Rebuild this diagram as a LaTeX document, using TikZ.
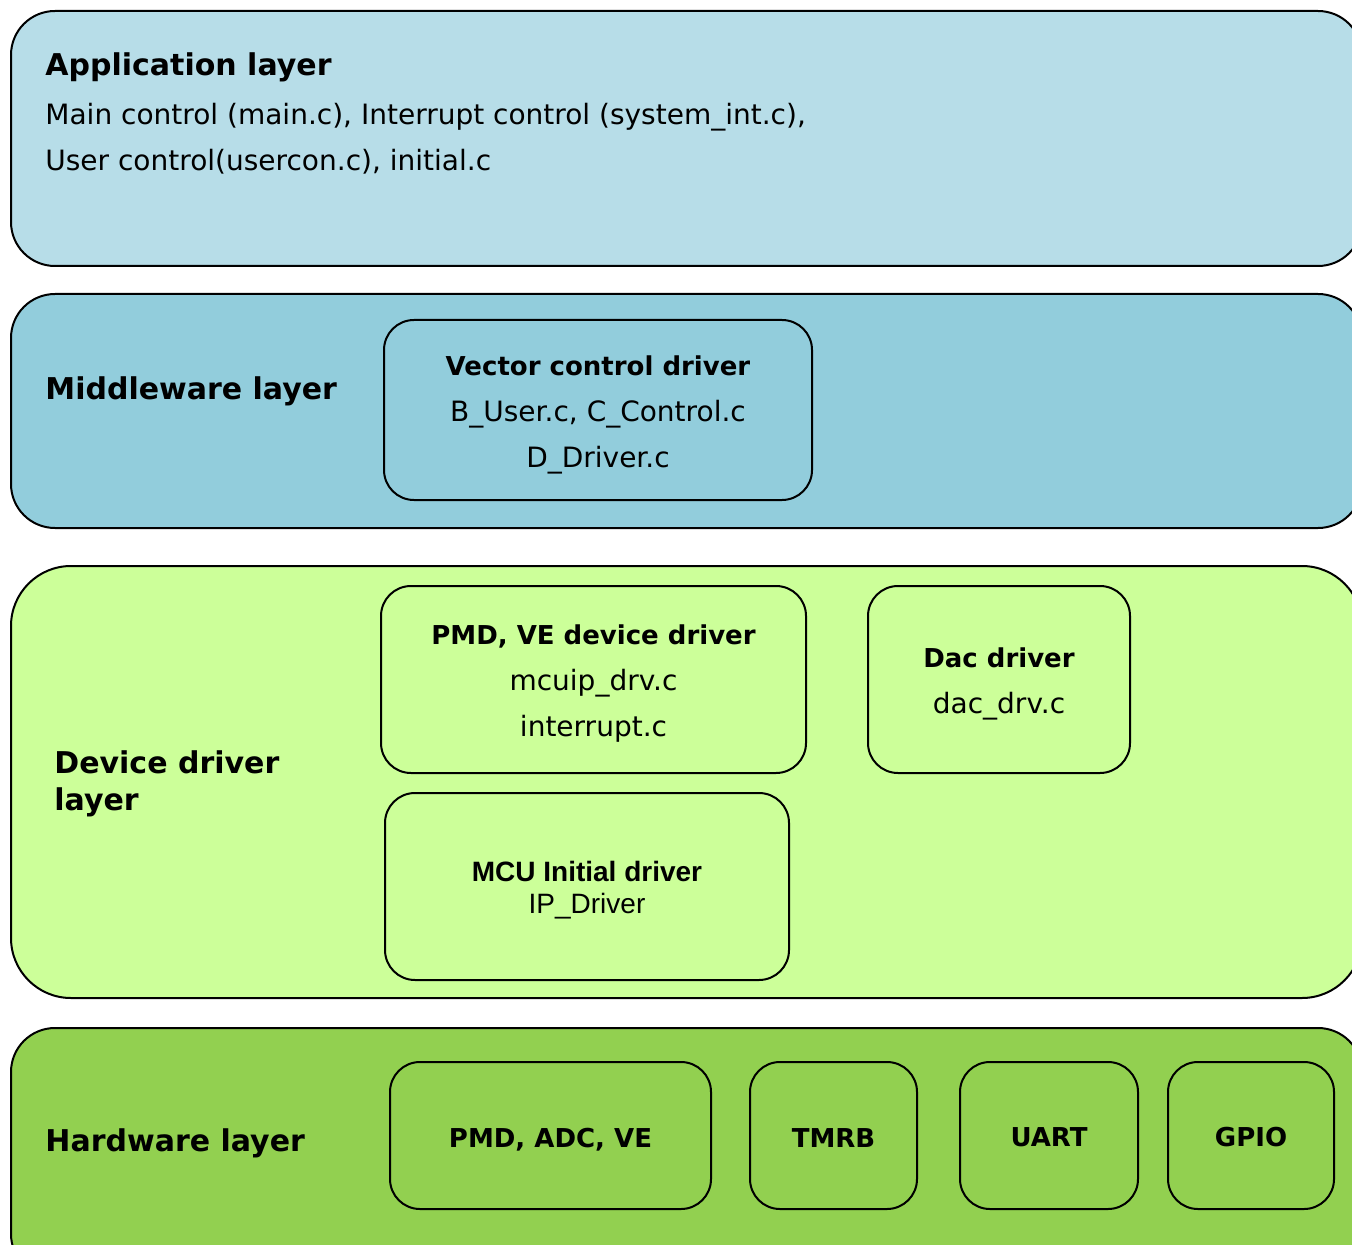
\documentclass[tikz,border=0pt]{standalone}
\usepackage{fontspec}
\setmainfont{DejaVu Sans}
\newfontfamily\arialfont{Liberation Sans}
\usetikzlibrary{positioning}

\definecolor{appblue}{HTML}{B7DDE8}
\definecolor{midblue}{HTML}{92CDDC}
\definecolor{devgreen}{HTML}{CCFF99}
\definecolor{hwgreen}{HTML}{92D050}

% bold heading inside a driver box, with a strut that lowers the text a little
\newcommand\hd[2][14pt]{\rule{0pt}{#1}{\fontsize{13}{23}\selectfont\bfseries #2}}

\tikzset{
  layer/.style = {draw, line width=1pt, rounded corners=22pt, inner sep=0pt},
  drv/.style = {draw, line width=1pt, rounded corners=15pt, inner sep=0pt, align=center,
                font=\fontsize{14}{23}\selectfont},
  lbl/.style = {anchor=west, inner sep=0pt, align=left, font=\fontsize{15}{18.5}\selectfont\bfseries}
}

\begin{document}
\begin{tikzpicture}[x=0.5pt, y=-0.5pt]
\useasboundingbox (0,0) rectangle (1352,1245);
\clip (0,0) rectangle (1352,1245);

% layers
\node[layer, fill=appblue, minimum width=675.5pt, minimum height=127.5pt] (app) at (686.5,138.5) {};
\node[layer, fill=midblue, minimum width=675.5pt, minimum height=117pt] (mid) at (686.5,411) {};
\node[layer, fill=devgreen, rounded corners=30pt, minimum width=675.5pt, minimum height=216pt] (dev) at (686.5,782) {};
\node[layer, fill=hwgreen, minimum width=675.5pt, minimum height=125pt] (hw) at (686.5,1153) {};

% layer names
\node[lbl, font=\fontsize{14}{23}\selectfont] (apptxt) at (45,113)
  {\textbf{\fontsize{15}{16}\selectfont Application layer}\\[1.5pt]
   Main control (main.c), Interrupt control (system\_int.c),\\
   User control(usercon.c), initial.c};
\node[lbl] (midtxt) at (45,391) {Middleware layer};
\node[lbl] (devtxt) at (54,784) {Device driver\\layer};
\node[lbl] (hwtxt) at (45,1143) {Hardware layer};

% middleware
\node[drv, fill=midblue, minimum width=214pt, minimum height=90pt] (vec) at (598,410)
  {\hd[15pt]{Vector control driver}\\B\_User.c, C\_Control.c\\D\_Driver.c};

% device drivers
\node[drv, fill=devgreen, minimum width=212.5pt, minimum height=93.5pt] (pmd) at (593.5,679.5)
  {\hd{PMD, VE device driver}\\mcuip\_drv.c\\interrupt.c};
\node[drv, fill=devgreen, minimum width=131pt, minimum height=93.5pt] (dac) at (999,679.5)
  {\hd{Dac driver}\\dac\_drv.c};
\node[drv, fill=devgreen, minimum width=202pt, minimum height=93.5pt,
      font=\arialfont\fontsize{14}{16}\selectfont] (mcu) at (587,886.5)
  {\rule{0pt}{14pt}\textbf{MCU Initial driver}\\IP\_Driver};

% hardware
\node[drv, fill=hwgreen, minimum width=160.5pt, minimum height=73.5pt] (pav) at (550.5,1135.5) {\hd[13.5pt]{PMD, ADC, VE}};
\node[drv, fill=hwgreen, minimum width=83.5pt, minimum height=73.5pt] (tmrb) at (833.5,1135.5) {\hd[11.5pt]{TMRB}};
\node[drv, fill=hwgreen, minimum width=89pt, minimum height=73.5pt] (uart) at (1049,1135.5) {\hd[11.5pt]{UART}};
\node[drv, fill=hwgreen, minimum width=83pt, minimum height=73.5pt] (gpio) at (1251,1135.5) {\hd[11.5pt]{GPIO}};
\end{tikzpicture}
\end{document}
